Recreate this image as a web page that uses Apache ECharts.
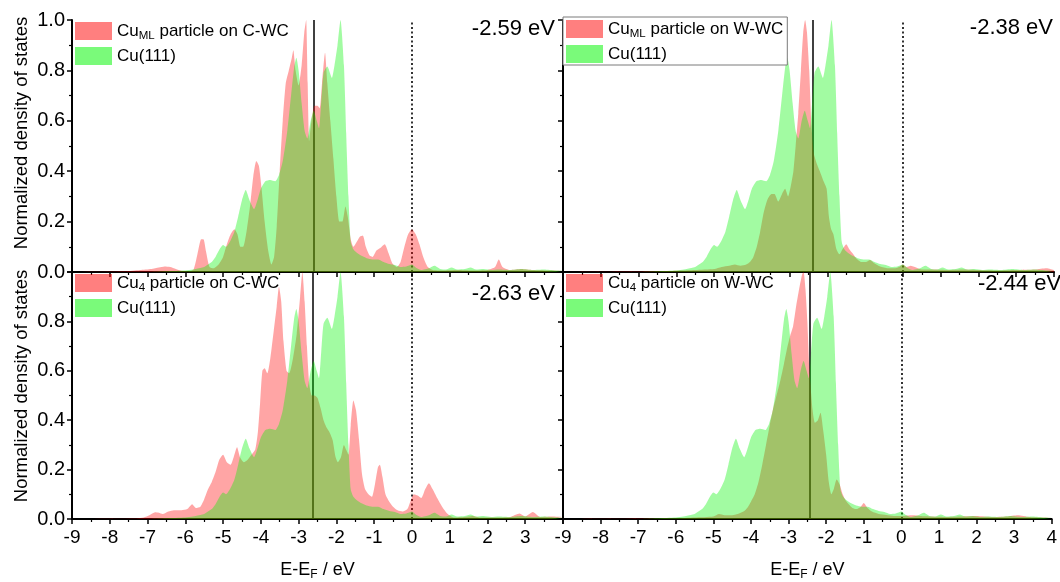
<!DOCTYPE html>
<html>
<head>
<meta charset="utf-8">
<script src="https://cdn.jsdelivr.net/npm/echarts@6/dist/echarts.min.js"></script>
<style>
html, body { margin: 0; padding: 0; background: #fff; }
#chart { width: 1060px; height: 582px; }
</style>
</head>
<body>
<div id="chart"></div>
<script>
// Cu(111) reference DOS (same curve in every panel)
const cu111E = [-9.0, -7.0, -6.5, -6.0, -5.8, -5.6, -5.5, -5.4, -5.3, -5.2, -5.1, -5.0, -4.92, -4.82, -4.7, -4.6, -4.5, -4.4, -4.3, -4.18,
    -4.08, -4.0, -3.88, -3.75, -3.62, -3.52, -3.42, -3.3, -3.2, -3.12, -3.06, -3.0, -2.92, -2.84, -2.77, -2.68, -2.6, -2.52, -2.46, -2.4,
    -2.34, -2.24, -2.12, -2.05, -1.97, -1.89, -1.8, -1.74, -1.68, -1.62, -1.55, -1.45, -1.35, -1.2, -1.05, -0.9, -0.75, -0.6, -0.45, -0.3,
    -0.15, 0.0, 0.1, 0.25, 0.45, 0.6, 0.75, 0.9, 1.05, 1.2, 1.4, 1.55, 1.7, 1.9, 2.1, 2.3, 2.6, 2.9, 3.2, 3.5, 3.8, 4.0];
const cu111 = [0, 0, 0.003, 0.006, 0.01, 0.016, 0.02, 0.03, 0.04, 0.06, 0.088, 0.107, 0.1, 0.12, 0.16, 0.22, 0.285, 0.325, 0.285, 0.25,
    0.29, 0.33, 0.36, 0.365, 0.36, 0.385, 0.44, 0.56, 0.7, 0.81, 0.85, 0.8, 0.67, 0.56, 0.53, 0.6, 0.64, 0.6, 0.57, 0.68,
    0.79, 0.815, 0.77, 0.82, 0.9, 1.0, 0.82, 0.55, 0.3, 0.12, 0.09, 0.075, 0.065, 0.055, 0.05, 0.05, 0.04, 0.032, 0.028, 0.02,
    0.022, 0.03, 0.018, 0.008, 0.015, 0.025, 0.012, 0.01, 0.018, 0.01, 0.012, 0.018, 0.01, 0.012, 0.008, 0.01, 0.008, 0.012, 0.008, 0.01, 0.006, 0.005];

// Cu_ML particle on C-WC
const mlCwcE = [-9.0, -7.6, -7.2, -6.9, -6.7, -6.55, -6.4, -6.25, -6.1, -5.9, -5.78, -5.68, -5.58, -5.52, -5.45, -5.36, -5.25, -5.12, -5.0, -4.9,
    -4.8, -4.7, -4.62, -4.54, -4.47, -4.38, -4.28, -4.2, -4.12, -4.05, -3.98, -3.9, -3.8, -3.72, -3.65, -3.58, -3.5, -3.42, -3.34, -3.26,
    -3.18, -3.14, -3.08, -3.0, -2.92, -2.85, -2.8, -2.76, -2.72, -2.66, -2.58, -2.5, -2.44, -2.38, -2.3, -2.24, -2.16, -2.08, -2.0, -1.92,
    -1.84, -1.76, -1.7, -1.62, -1.55, -1.46, -1.38, -1.3, -1.22, -1.12, -1.04, -0.94, -0.84, -0.72, -0.62, -0.52, -0.4, -0.3, -0.2, -0.1,
    0.0, 0.1, 0.2, 0.3, 0.42, 0.55, 0.8, 1.2, 1.6, 2.0, 2.2, 2.3, 2.4, 2.6, 2.9, 3.2, 3.6, 4.0];
const mlCwc = [0, 0.003, 0.008, 0.012, 0.018, 0.022, 0.02, 0.012, 0.005, 0.003, 0.01, 0.07, 0.13, 0.13, 0.08, 0.02, 0.015, 0.03, 0.06, 0.11,
    0.15, 0.17, 0.15, 0.1, 0.1, 0.16, 0.27, 0.38, 0.44, 0.42, 0.33, 0.2, 0.08, 0.03, 0.06, 0.18, 0.4, 0.6, 0.75, 0.8,
    0.85, 0.88, 0.8, 0.74, 0.82, 0.95, 1.0, 0.75, 0.52, 0.6, 0.66, 0.66, 0.65, 0.75, 0.87, 0.75, 0.6, 0.45, 0.3, 0.2,
    0.2, 0.26, 0.22, 0.13, 0.1, 0.12, 0.14, 0.145, 0.1, 0.065, 0.06, 0.085, 0.095, 0.11, 0.075, 0.035, 0.02, 0.04, 0.1, 0.15,
    0.17, 0.15, 0.11, 0.06, 0.02, 0.008, 0.006, 0.008, 0.006, 0.008, 0.02, 0.05, 0.02, 0.008, 0.012, 0.008, 0.006, 0.005];

// Cu_ML particle on W-WC
const mlWwcE = [-9.0, -6.5, -6.0, -5.5, -5.0, -4.8, -4.6, -4.45, -4.3, -4.15, -4.05, -3.96, -3.87, -3.78, -3.68, -3.58, -3.48, -3.4, -3.3, -3.2,
    -3.12, -3.04, -2.97, -2.9, -2.84, -2.77, -2.7, -2.64, -2.59, -2.54, -2.48, -2.42, -2.36, -2.28, -2.2, -2.1, -2.02, -1.96, -1.9, -1.84,
    -1.76, -1.68, -1.6, -1.5, -1.42, -1.34, -1.24, -1.1, -0.98, -0.87, -0.76, -0.6, -0.4, -0.2, -0.1, 0.0, 0.1, 0.2, 0.35, 0.5,
    0.8, 1.2, 1.6, 2.0, 2.5, 3.0, 3.5, 3.8, 4.0];
const mlWwc = [0, 0.003, 0.005, 0.008, 0.012, 0.02, 0.025, 0.03, 0.025, 0.03, 0.04, 0.06, 0.1, 0.16, 0.24, 0.29, 0.31, 0.31, 0.28, 0.31,
    0.33, 0.3, 0.34, 0.4, 0.5, 0.63, 0.8, 0.95, 1.0, 0.95, 0.8, 0.58, 0.47, 0.43, 0.4, 0.36, 0.33, 0.22, 0.17, 0.15,
    0.09, 0.07, 0.09, 0.11, 0.09, 0.075, 0.055, 0.04, 0.04, 0.048, 0.035, 0.022, 0.015, 0.015, 0.02, 0.03, 0.02, 0.025, 0.018, 0.01,
    0.01, 0.008, 0.01, 0.008, 0.006, 0.008, 0.01, 0.015, 0.008];

// Cu4 particle on C-WC
const c4CwcE = [-9.0, -7.3, -7.1, -6.95, -6.8, -6.7, -6.6, -6.45, -6.3, -6.1, -5.95, -5.82, -5.72, -5.6, -5.5, -5.4, -5.3, -5.2, -5.1, -5.0,
    -4.9, -4.8, -4.72, -4.63, -4.55, -4.45, -4.35, -4.25, -4.15, -4.08, -4.02, -3.96, -3.9, -3.83, -3.75, -3.66, -3.58, -3.52, -3.46, -3.4,
    -3.32, -3.25, -3.15, -3.05, -2.96, -2.9, -2.84, -2.78, -2.72, -2.65, -2.58, -2.5, -2.42, -2.34, -2.26, -2.18, -2.1, -2.02, -1.96, -1.88,
    -1.8, -1.74, -1.68, -1.62, -1.55, -1.48, -1.4, -1.32, -1.24, -1.15, -1.06, -0.98, -0.9, -0.85, -0.78, -0.7, -0.6, -0.5, -0.38, -0.25,
    -0.12, -0.02, 0.05, 0.15, 0.25, 0.35, 0.45, 0.55, 0.65, 0.8, 0.95, 1.1, 1.4, 1.6, 1.8, 2.2, 2.6, 2.85, 3.0, 3.2,
    3.4, 3.7, 4.0];
const c4Cwc = [0, 0.002, 0.006, 0.015, 0.027, 0.025, 0.02, 0.03, 0.035, 0.035, 0.04, 0.06, 0.045, 0.05, 0.08, 0.12, 0.15, 0.19, 0.24, 0.26,
    0.23, 0.22, 0.25, 0.29, 0.25, 0.23, 0.24, 0.26, 0.28, 0.35, 0.47, 0.6, 0.61, 0.59, 0.65, 0.76, 0.86, 0.94, 0.88, 0.72,
    0.6, 0.59, 0.65, 0.75, 0.9, 1.0, 0.88, 0.7, 0.55, 0.5, 0.5, 0.49, 0.45, 0.4, 0.37, 0.35, 0.32, 0.25, 0.23, 0.25,
    0.3, 0.28, 0.26, 0.38, 0.48, 0.44, 0.32, 0.18, 0.12, 0.1, 0.09, 0.14, 0.21, 0.22, 0.17, 0.1, 0.07, 0.05, 0.035, 0.03,
    0.04, 0.08, 0.1, 0.095, 0.085, 0.12, 0.145, 0.12, 0.09, 0.05, 0.02, 0.006, 0.008, 0.012, 0.006, 0.006, 0.008, 0.022, 0.01, 0.028,
    0.008, 0.01, 0.008];

// Cu4 particle on W-WC
const c4WwcE = [-9.0, -6.0, -5.5, -5.0, -4.85, -4.7, -4.5, -4.35, -4.2, -4.1, -4.0, -3.9, -3.8, -3.7, -3.6, -3.5, -3.42, -3.32, -3.22, -3.12,
    -3.04, -2.96, -2.88, -2.8, -2.72, -2.64, -2.6, -2.55, -2.5, -2.45, -2.42, -2.36, -2.3, -2.22, -2.15, -2.08, -2.0, -1.93, -1.86, -1.8,
    -1.72, -1.64, -1.56, -1.48, -1.4, -1.3, -1.2, -1.08, -1.0, -0.9, -0.78, -0.6, -0.4, -0.2, 0.0, 0.3, 0.5, 0.8, 1.2, 1.6,
    2.0, 2.4, 2.8, 3.1, 3.4, 4.0];
const c4Wwc = [0, 0.003, 0.006, 0.01, 0.02, 0.015, 0.015, 0.02, 0.03, 0.045, 0.07, 0.1, 0.15, 0.22, 0.3, 0.38, 0.44, 0.5, 0.56, 0.63,
    0.69, 0.74, 0.78, 0.86, 0.93, 0.99, 1.0, 0.93, 0.8, 0.62, 0.55, 0.44, 0.39, 0.4, 0.43, 0.36, 0.26, 0.15, 0.1, 0.12,
    0.16, 0.14, 0.1, 0.075, 0.06, 0.045, 0.04, 0.05, 0.065, 0.045, 0.03, 0.02, 0.016, 0.012, 0.012, 0.015, 0.012, 0.01, 0.008, 0.01,
    0.012, 0.008, 0.01, 0.015, 0.008, 0.005];

const dBandCentres = [-2.59, -2.38, -2.63, -2.44];
const dBandLabels = ['-2.59 eV', '-2.38 eV', '-2.63 eV', '-2.44 eV'];

const RED = 'rgba(255, 0, 0, 0.5)';
const GREEN = 'rgba(0, 245, 0, 0.52)';
const FONT = '"Liberation Sans", Arial, sans-serif';

const zip = (xs, ys) => xs.map((x, i) => [x, ys[i]]);

const panels = [
    { name: 'CuML particle on C-WC', label: '{n|Cu}{s|ML}{n| particle on C-WC}', e: mlCwcE, v: mlCwc },
    { name: 'CuML particle on W-WC', label: '{n|Cu}{s|ML}{n| particle on W-WC}', e: mlWwcE, v: mlWwc },
    { name: 'Cu4 particle on C-WC', label: '{n|Cu}{s|4}{n| particle on C-WC}', e: c4CwcE, v: c4Cwc },
    { name: 'Cu4 particle on W-WC', label: '{n|Cu}{s|4}{n| particle on W-WC}', e: c4WwcE, v: c4Wwc }
];

const boxes = [
    { left: 72, top: 20 }, { left: 563, top: 20 },
    { left: 72, top: 272 }, { left: 563, top: 272 }
];

const legendRich = {
    n: { fontSize: 17, fontFamily: FONT, color: '#000', lineHeight: 22 },
    s: { fontSize: 11.5, fontFamily: FONT, color: '#000', lineHeight: 22, verticalAlign: 'bottom' }
};

const chart = echarts.init(document.getElementById('chart'));

const option = {
    animation: false,
    backgroundColor: '#fff',
    textStyle: { fontFamily: FONT },
    grid: boxes.map(b => ({ left: b.left, top: b.top, width: 491, height: 252 })),
    xAxis: boxes.map((b, i) => {
        const bottom = i >= 2;
        return {
            gridIndex: i,
            type: 'value',
            min: -9,
            max: 4,
            interval: 1,
            splitLine: { show: false },
            axisLine: { onZero: false, lineStyle: { color: '#000', width: 2 } },
            axisTick: { length: 5, lineStyle: { color: '#000', width: 1.5 } },
            minorTick: { show: true, splitNumber: 2, length: 3, lineStyle: { color: '#000', width: 1.2 } },
            axisLabel: {
                show: bottom,
                color: '#000',
                fontSize: 19,
                fontFamily: FONT,
                margin: 9,
                showMaxLabel: i === 3
            },
            name: bottom ? '{n|E-E}{s|F}{n| / eV}' : '',
            nameLocation: 'middle',
            nameGap: 40,
            nameTextStyle: {
                rich: {
                    n: { fontSize: 18, fontFamily: FONT, color: '#000', lineHeight: 22 },
                    s: { fontSize: 12, fontFamily: FONT, color: '#000', lineHeight: 22, verticalAlign: 'bottom' }
                }
            }
        };
    }),
    yAxis: boxes.map((b, i) => {
        const leftCol = i % 2 === 0;
        return {
            gridIndex: i,
            type: 'value',
            position: 'left',
            min: 0,
            max: 1,
            interval: 0.2,
            splitLine: { show: false },
            axisLine: { show: true, onZero: false, lineStyle: { color: '#000', width: 2 } },
            axisTick: { show: true, length: 5, lineStyle: { color: '#000', width: 1.5 } },
            minorTick: { show: true, splitNumber: 2, length: 3, lineStyle: { color: '#000', width: 1.2 } },
            axisLabel: {
                show: leftCol,
                color: '#000',
                fontSize: 20,
                fontFamily: FONT,
                margin: 7,
                showMaxLabel: i === 0,
                formatter: v => v.toFixed(1)
            }
        };
    }),
    legend: panels.map((p, i) => ({
        orient: 'vertical',
        left: boxes[i].left,
        top: i < 2 ? (i === 1 ? 17 : 19) : 271,
        padding: [3, 4, 2, 3],
        itemWidth: 37,
        itemHeight: 18,
        itemGap: 5,
        icon: 'rect',
        selectedMode: false,
        borderColor: i === 1 ? '#7a7a7a' : 'transparent',
        borderWidth: i === 1 ? 1 : 0,
        backgroundColor: i === 1 ? '#fff' : 'transparent',
        data: [
            { name: p.name, itemStyle: { color: RED } },
            { name: 'Cu(111)', itemStyle: { color: GREEN } }
        ],
        formatter: n => (n === 'Cu(111)' ? '{n|Cu(111)}' : p.label),
        textStyle: { color: '#000', fontSize: 17, fontFamily: FONT, rich: legendRich }
    })),
    graphic: [
        { type: 'text', right: 505, top: 18, style: { text: dBandLabels[0], font: '22px ' + FONT, fill: '#000' } },
        { type: 'text', right: 7, top: 17, style: { text: dBandLabels[1], font: '22px ' + FONT, fill: '#000' } },
        { type: 'text', right: 505, top: 283, style: { text: dBandLabels[2], font: '22px ' + FONT, fill: '#000' } },
        { type: 'text', left: 978, top: 273, style: { text: dBandLabels[3], font: '22px ' + FONT, fill: '#000' } },
        { type: 'text', x: 22, y: 133, rotation: Math.PI / 2,
          style: { text: 'Normalized density of states', font: '18.5px ' + FONT, fill: '#000', align: 'center', verticalAlign: 'middle' } },
        { type: 'text', x: 22, y: 386, rotation: Math.PI / 2,
          style: { text: 'Normalized density of states', font: '18.5px ' + FONT, fill: '#000', align: 'center', verticalAlign: 'middle' } }
    ],
    series: []
};

panels.forEach((p, i) => {
    option.series.push({
        type: 'line',
        name: p.name,
        xAxisIndex: i,
        yAxisIndex: i,
        data: zip(p.e, p.v),
        showSymbol: false,
        smooth: 0.2,
        silent: true,
        z: 2,
        itemStyle: { color: RED },
        lineStyle: { width: 0 },
        areaStyle: { color: RED },
        markLine: {
            silent: true,
            z: 1,
            symbol: ['none', 'none'],
            label: { show: false },
            data: [
                { xAxis: dBandCentres[i], lineStyle: { color: '#000', width: 1.5, type: 'solid' } },
                { xAxis: 0, lineStyle: { color: '#000', width: 1.6, type: [2, 2.5] } }
            ]
        }
    });
    option.series.push({
        type: 'line',
        name: 'Cu(111)',
        xAxisIndex: i,
        yAxisIndex: i,
        data: zip(cu111E, cu111),
        showSymbol: false,
        smooth: 0.2,
        silent: true,
        z: 3,
        itemStyle: { color: GREEN },
        lineStyle: { width: 0 },
        areaStyle: { color: GREEN }
    });
});

chart.setOption(option);
</script>
</body>
</html>
